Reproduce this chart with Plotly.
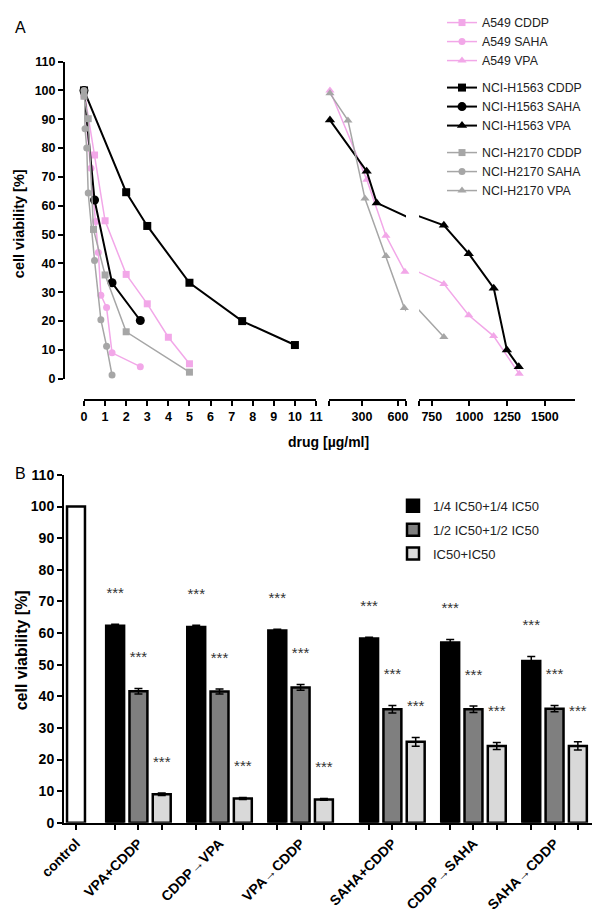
import plotly.graph_objects as go

# page has an 8 px body margin, so the figure is shrunk by that amount
OFF = 8
W, H = 600 - OFF, 915 - OFF

# ─── COLOURS ──────────────────────────────────────────────────
PINK = "#F2A7E8"
GREY = "#A6A6A6"
BLACK = "#000000"
MID = "#7F7F7F"
LIGHT = "#D9D9D9"
FONT = "Liberation Sans, Arial, sans-serif"

# ─── PANEL A DATA (drug in µg/ml, viability in %) ────────────
a549_cddp_x = [0, 0.5, 1, 2, 3, 4, 5]
a549_cddp_y = [100, 77.6, 54.8, 36.2, 26.0, 14.4, 5.2]
a549_saha_x = [0, 0.33, 0.55, 0.68, 0.8, 1.07, 1.33, 2.67]
a549_saha_y = [98, 73, 54.5, 43.8, 29.0, 24.7, 9.0, 4.2]
a549_vpa_x = [33, 340, 500, 658, 830, 995, 1160, 1330]
a549_vpa_y = [100, 69, 49.6, 37.1, 32.9, 22.0, 14.8, 1.7]

h1563_cddp_x = [0, 2, 3, 5, 7.5, 10]
h1563_cddp_y = [100, 64.7, 53.0, 33.3, 20.0, 11.7]
h1563_saha_x = [0, 0.5, 1.33, 2.67]
h1563_saha_y = [100, 62.0, 33.3, 20.2]
h1563_vpa_x = [33, 339, 423, 830, 995, 1161, 1248, 1327]
h1563_vpa_y = [89.7, 72.0, 61.0, 53.2, 43.4, 31.4, 10.0, 4.2]

h2170_cddp_x = [0, 0.2, 0.45, 1, 2, 5]
h2170_cddp_y = [98, 90.2, 51.8, 36.0, 16.3, 2.3]
h2170_saha_x = [0, 0.05, 0.13, 0.2, 0.5, 0.8, 1.07, 1.33]
h2170_saha_y = [100, 86.7, 80.0, 64.4, 41.0, 20.5, 11.3, 1.3]
h2170_vpa_x = [33, 183, 325, 500, 653, 830]
h2170_vpa_y = [99, 89.6, 62.5, 42.6, 24.5, 14.5]

# ─── PANEL B DATA ─────────────────────────────────────────────
combos = ["VPA+CDDP", "CDDP→VPA", "VPA→CDDP", "SAHA+CDDP", "CDDP→SAHA", "SAHA→CDDP"]
dose_names = ["1/4 IC50+1/4 IC50", "1/2 IC50+1/2 IC50", "IC50+IC50"]
control_val = 100
quarter_vals = [62.3, 61.9, 60.8, 58.3, 57.0, 51.2]
quarter_err = [0.5, 0.6, 0.4, 0.4, 1.0, 1.4]
half_vals = [41.6, 41.5, 42.8, 35.9, 35.9, 36.1]
half_err = [0.9, 0.8, 0.9, 1.2, 1.0, 1.0]
full_vals = [9.0, 7.7, 7.4, 25.6, 24.3, 24.3]
full_err = [0.4, 0.3, 0.3, 1.4, 1.1, 1.3]


def px(x):
    return (x - OFF) / W


def py(y):
    return 1 - (y - OFF) / H


fig = go.Figure()

# ─── PANEL A TRACES ───────────────────────────────────────────
series = [
    ("A549 CDDP", "a549", PINK, "square", a549_cddp_x, a549_cddp_y, 1.5, 7),
    ("A549 SAHA", "a549", PINK, "circle", a549_saha_x, a549_saha_y, 1.5, 7),
    ("A549 VPA", "a549", PINK, "triangle-up", a549_vpa_x, a549_vpa_y, 1.5, 8),
    ("NCI-H1563 CDDP", "h1563", BLACK, "square", h1563_cddp_x, h1563_cddp_y, 2, 8),
    ("NCI-H1563 SAHA", "h1563", BLACK, "circle", h1563_saha_x, h1563_saha_y, 2, 9),
    ("NCI-H1563 VPA", "h1563", BLACK, "triangle-up", h1563_vpa_x, h1563_vpa_y, 2, 9),
    ("NCI-H2170 CDDP", "h2170", GREY, "square", h2170_cddp_x, h2170_cddp_y, 1.5, 7),
    ("NCI-H2170 SAHA", "h2170", GREY, "circle", h2170_saha_x, h2170_saha_y, 1.5, 7),
    ("NCI-H2170 VPA", "h2170", GREY, "triangle-up", h2170_vpa_x, h2170_vpa_y, 1.5, 8),
]

for name, grp, col, sym, xs, ys, lw, ms in series:
    common = dict(
        y=ys, mode="lines+markers", name=name, legendgroup=grp,
        line=dict(color=col, width=lw),
        marker=dict(color=col, symbol=sym, size=ms),
        cliponaxis=False, yaxis="y",
    )
    if "VPA" in name:
        # broken axis: same series drawn on both right-hand segments
        fig.add_trace(go.Scatter(x=xs, xaxis="x2", **common))
        fig.add_trace(go.Scatter(x=xs, xaxis="x3", showlegend=False, **common))
    else:
        fig.add_trace(go.Scatter(x=xs, xaxis="x", **common))

# ─── PANEL B TRACES ───────────────────────────────────────────
unit = 1.0
bar_w = 0.77
group_centers = [2.68 + 3.48 * g + (0.46 if g >= 3 else 0) for g in range(len(combos))]

fig.add_trace(go.Bar(
    x=[0], y=[control_val], width=bar_w,
    marker=dict(color="white", line=dict(color=BLACK, width=2.5)),
    xaxis="x4", yaxis="y2", showlegend=False, hoverinfo="skip",
))

dose_sets = [
    (quarter_vals, quarter_err, BLACK),
    (half_vals, half_err, MID),
    (full_vals, full_err, LIGHT),
]
all_pos, all_top = [], []
for k, (vals, errs, col) in enumerate(dose_sets):
    xs = [c + (k - 1) * unit for c in group_centers]
    fig.add_trace(go.Bar(
        x=xs, y=vals, width=bar_w, name=dose_names[k],
        marker=dict(color=col, line=dict(color=BLACK, width=2.5)),
        error_y=dict(type="data", array=errs, color=BLACK, thickness=1.5, width=4),
        xaxis="x4", yaxis="y2", legend="legend2", legendgroup=f"d{k}",
    ))
    all_pos += xs
    all_top += [v + e for v, e in zip(vals, errs)]

fig.add_trace(go.Scatter(
    x=all_pos, y=[t + 9.5 for t in all_top], mode="text",
    text=["***"] * len(all_pos), textposition="middle center",
    textfont=dict(family=FONT, size=15, color="#333333"),
    xaxis="x4", yaxis="y2", showlegend=False, cliponaxis=False, hoverinfo="skip",
))

# ─── AXES ─────────────────────────────────────────────────────
axis_style = dict(
    showline=True, linewidth=2, linecolor=BLACK, ticks="outside", ticklen=5,
    tickwidth=2, tickcolor=BLACK, showgrid=False, zeroline=False, automargin=False,
)
font_a = dict(family=FONT, size=12.5, color=BLACK, weight="bold")
font_b = dict(family=FONT, size=14, color=BLACK, weight="bold")
xa_pos = py(395)

tick_pos = sorted(all_pos + [0])
tick_text = [""] * len(tick_pos)
tick_text[0] = "control"
for c, lab in zip(group_centers, combos):
    tick_text[tick_pos.index(c)] = lab


def note(text, x, y, size, angle=0, bold=True):
    return dict(text=text, x=px(x), y=py(y), xref="paper", yref="paper",
                xanchor="center", yanchor="middle", textangle=angle, showarrow=False,
                font=dict(size=size, color=BLACK, weight="bold" if bold else "normal"))


fig.update_layout(
    template="none",
    width=W, height=H,
    paper_bgcolor="white", plot_bgcolor="white",
    margin=dict(l=0, r=0, t=0, b=0, pad=0),
    font=dict(family=FONT, color=BLACK),
    barmode="overlay",
    xaxis=dict(domain=[px(84), px(316)], range=[0, 11], anchor="free", position=xa_pos,
               tickvals=list(range(12)), tickfont=font_a, **axis_style),
    xaxis2=dict(domain=[px(329), px(406)], range=[25, 667], anchor="free", position=xa_pos,
                tickvals=[26, 300, 600, 666], ticktext=["", "300", "600", ""],
                tickfont=font_a, **axis_style),
    xaxis3=dict(domain=[px(419), px(575)], range=[665, 1700], anchor="free", position=xa_pos,
                tickvals=[666, 750, 1000, 1250, 1500], ticktext=["", "750", "1000", "1250", "1500"],
                tickfont=font_a, **axis_style),
    yaxis=dict(domain=[py(374), py(54)], range=[0, 110], anchor="free", position=px(64),
               tickvals=list(range(0, 111, 10)), tickfont=font_a, **axis_style),
    xaxis4=dict(domain=[px(64), px(593)], range=[-0.515, 22.19], anchor="y2",
                tickvals=tick_pos, ticktext=tick_text, tickangle=-45, tickfont=font_b,
                **axis_style),
    yaxis2=dict(domain=[py(822), py(471)], range=[0, 110], anchor="x4",
                tickvals=list(range(0, 111, 10)), tickfont=font_b, **axis_style),
    legend=dict(x=px(442), y=py(0), xanchor="left", yanchor="top",
                font=dict(family=FONT, size=12.3, color="#222222"),
                tracegroupgap=8, bgcolor="rgba(0,0,0,0)"),
    legend2=dict(x=px(393), y=py(487), xanchor="left", yanchor="top",
                 font=dict(family=FONT, size=13, color="#222222"),
                 tracegroupgap=4, bgcolor="rgba(0,0,0,0)"),
    annotations=[
        note("A", 20, 20, 16, bold=False),
        note("B", 20, 470, 16, bold=False),
        note("cell viability [%]", 19, 218, 14.5, angle=-90),
        note("drug [µg/ml]", 328, 438, 14),
        note("cell viability [%]", 21, 648, 16, angle=-90),
    ],
)

fig.write_html("out.html")
